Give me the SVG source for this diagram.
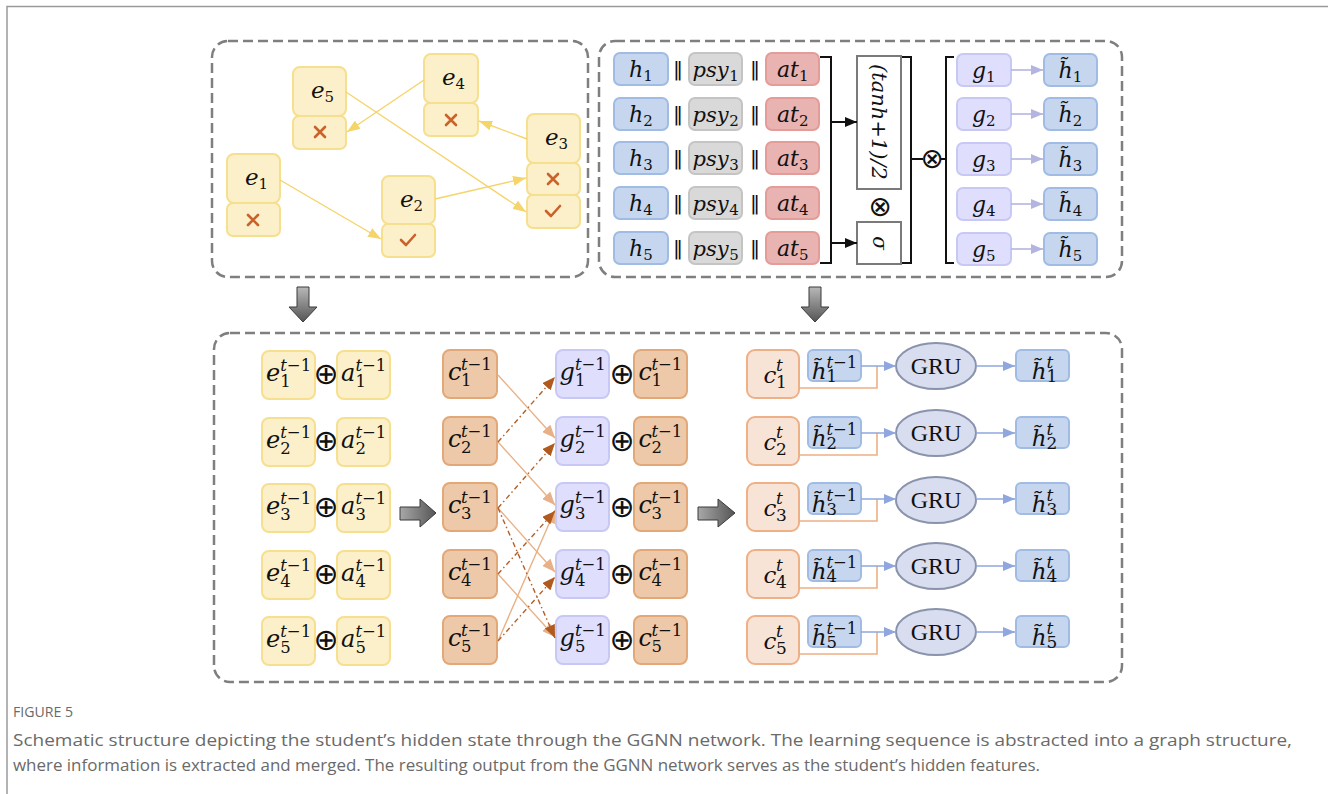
<svg xmlns="http://www.w3.org/2000/svg" width="1328" height="794" viewBox="0 0 1328 794">
  <defs>
    <style>
      .panel { fill: none; stroke: #7f7f7f; stroke-width: 2.5; stroke-dasharray: 10 5; }
      .ybox { fill: #FCF0CA; stroke: #F6DF8E; stroke-width: 2; }
      .mark { fill: none; stroke: #C9622B; stroke-width: 2.6; stroke-linecap: round; stroke-linejoin: round; }
      .yline { fill: none; stroke: #F5D46A; stroke-width: 1.4; }
      .hbox { fill: #C6D6EE; stroke: #A0BCE4; stroke-width: 2; }
      .pbox { fill: #D9D9D9; stroke: #C4C4C4; stroke-width: 2; }
      .abox { fill: #E8B3B1; stroke: #E49C98; stroke-width: 2; }
      .gbox { fill: #DFDFFD; stroke: #C8C8F4; stroke-width: 2; }
      .cbox { fill: #EDC9A9; stroke: #E2A878; stroke-width: 2; }
      .ctbox { fill: #F8E4D6; stroke: #EEB086; stroke-width: 2; }
      .gru { fill: #D9DDF0; stroke: #8A93AC; stroke-width: 2; }
      .blk { fill: none; stroke: #111; stroke-width: 2; }
      .m { font-family: "DejaVu Serif", "Liberation Serif", serif; font-style: italic; fill: #111; }
      .d { font-family: "DejaVu Serif", "Liberation Serif", serif; font-style: normal; fill: #111; }
      .op { font-family: "DejaVu Sans", "Liberation Sans", sans-serif; fill: #111; text-anchor: middle; }
      .plus { font-size: 30px; }
      .bar { font-size: 20px; }
      .b24 { font-size: 24px; }
      .b23 { font-size: 23px; }
      .b22 { font-size: 22px; }
      .s15 { font-size: 15px; }
      .s165 { font-size: 16.5px; }
      .gtxt { font-family: "Liberation Serif", "DejaVu Serif", serif; font-size: 24px; fill: #111; text-anchor: middle; }
      .cap { font-family: "Open Sans", "Noto Sans", "Liberation Sans", sans-serif; fill: #6a6a6a; }
      .solid { fill: none; stroke: #E9B186; stroke-width: 1.4; }
      .dash { fill: none; stroke: #B3602A; stroke-width: 1.4; stroke-dasharray: 5 3 1.5 3; }
      .bl { fill: none; stroke: #8FA7DE; stroke-width: 1.6; }
      .or { fill: none; stroke: #EDB084; stroke-width: 1.6; }
      .pl { fill: none; stroke: #B4B4E0; stroke-width: 1.6; }
      .big { stroke: #3a3a3a; stroke-width: 1; }
    </style>
    <marker id="ay" markerUnits="userSpaceOnUse" markerWidth="13" markerHeight="10" refX="13" refY="5" orient="auto">
      <path d="M0,0 L13,5 L0,10 Z" fill="#F5D46A"/>
    </marker>
    <marker id="ak" markerUnits="userSpaceOnUse" markerWidth="12" markerHeight="10" refX="12" refY="5" orient="auto">
      <path d="M0,0 L12,5 L0,10 Z" fill="#111"/>
    </marker>
    <marker id="ap" markerUnits="userSpaceOnUse" markerWidth="12" markerHeight="10" refX="12" refY="5" orient="auto">
      <path d="M0,0 L12,5 L0,10 Z" fill="#B4B4E0"/>
    </marker>
    <marker id="ab" markerUnits="userSpaceOnUse" markerWidth="12" markerHeight="10" refX="12" refY="5" orient="auto">
      <path d="M0,0 L12,5 L0,10 Z" fill="#8FA7DE"/>
    </marker>
    <marker id="alo" markerUnits="userSpaceOnUse" markerWidth="13" markerHeight="11" refX="13" refY="5.5" orient="auto">
      <path d="M0,0 L13,5.5 L0,11 Z" fill="#E8B088"/>
    </marker>
    <marker id="ado" markerUnits="userSpaceOnUse" markerWidth="13" markerHeight="11" refX="13" refY="5.5" orient="auto">
      <path d="M0,0 L13,5.5 L0,11 Z" fill="#B05A20"/>
    </marker>
    <linearGradient id="gv" x1="0" y1="0" x2="0" y2="1">
      <stop offset="0" stop-color="#b8b8b8"/>
      <stop offset="1" stop-color="#555"/>
    </linearGradient>
    <linearGradient id="gh" x1="0" y1="0" x2="1" y2="0">
      <stop offset="0" stop-color="#a8a8a8"/>
      <stop offset="1" stop-color="#555"/>
    </linearGradient>
  </defs>

  <rect width="1328" height="794" fill="#fff"/>
  <!-- page frame -->
  <path d="M7,794 V6.5 H1328" fill="none" stroke="#9a9a9a" stroke-width="1.5"/>

  <!-- dashed panels -->
  <g id="panels">
    <rect class="panel" x="212" y="41" width="376" height="236" rx="16"/>
    <rect class="panel" x="599" y="41" width="523" height="236" rx="16"/>
    <rect class="panel" x="214" y="333" width="908" height="349" rx="16"/>
  </g>

  <!-- block arrows between stages -->
  <g id="stage-arrows">
    <path class="big" fill="url(#gv)" d="M297,287 H309 V307 H317 L303,322 L289,307 H297 Z"/>
    <path class="big" fill="url(#gv)" d="M809,287 H821 V307 H829 L815,322 L801,307 H809 Z"/>
    <path class="big" fill="url(#gh)" d="M400,507 H420 V499 L436,513 L420,527 V520 H400 Z"/>
    <path class="big" fill="url(#gh)" d="M698,507 H718 V499 L735,513 L718,527 V520 H698 Z"/>
  </g>

  <!-- learning sequence graph -->
  <g id="node-e5">
    <rect class="ybox" x="293" y="67" width="53" height="49" rx="7"/>
    <rect class="ybox" x="293" y="116" width="53" height="33" rx="6"/>
    <text class="m b23" x="311" y="98">e</text><text class="d s15" x="324.6" y="102">5</text>
    <path class="mark" d="M315,127 L325,137 M325,127 L315,137"/>
  </g>
  <g id="node-e4">
    <rect class="ybox" x="424" y="54" width="54" height="49" rx="7"/>
    <rect class="ybox" x="424" y="103" width="54" height="33" rx="6"/>
    <text class="m b23" x="442" y="85">e</text><text class="d s15" x="455.6" y="89">4</text>
    <path class="mark" d="M446,115 L456,125 M456,115 L446,125"/>
  </g>
  <g id="node-e3">
    <rect class="ybox" x="527" y="114" width="53" height="49" rx="7"/>
    <rect class="ybox" x="527" y="163" width="53" height="32" rx="6"/>
    <rect class="ybox" x="527" y="195" width="53" height="33" rx="6"/>
    <text class="m b23" x="545" y="145">e</text><text class="d s15" x="558.6" y="149">3</text>
    <path class="mark" d="M548,174 L558,184 M558,174 L548,184"/>
    <path class="mark" d="M546,211 L551,216 L560,206"/>
  </g>
  <g id="node-e1">
    <rect class="ybox" x="227" y="154" width="53" height="49" rx="7"/>
    <rect class="ybox" x="227" y="203" width="53" height="33" rx="6"/>
    <text class="m b23" x="245" y="185">e</text><text class="d s15" x="258.6" y="189">1</text>
    <path class="mark" d="M248,215 L258,225 M258,215 L248,225"/>
  </g>
  <g id="node-e2">
    <rect class="ybox" x="382" y="176" width="53" height="48" rx="7"/>
    <rect class="ybox" x="382" y="224" width="53" height="33" rx="6"/>
    <text class="m b23" x="400" y="207">e</text><text class="d s15" x="413.6" y="211">2</text>
    <path class="mark" d="M401,240 L406,245 L415,235"/>
  </g>

  <!-- gated feature fusion -->
  <g id="row-1">
    <rect class="hbox" x="614" y="53" width="54" height="32" rx="6"/>
    <text class="m b22" x="629" y="77">h</text><text class="d s15" x="643.2" y="81">1</text>
    <text class="op bar" x="678" y="76">‖</text>
    <rect class="pbox" x="689" y="53" width="53" height="32" rx="6"/>
    <text class="m" font-size="21" x="692.5" y="77">psy</text><text class="d s15" x="729.3" y="81">1</text>
    <text class="op bar" x="755" y="76">‖</text>
    <rect class="abox" x="766" y="53" width="53" height="32" rx="6"/>
    <text class="m b22" x="777" y="77">at</text><text class="d s15" x="799" y="81">1</text>
  </g>
  <g id="row-2">
    <rect class="hbox" x="614" y="98" width="54" height="32" rx="6"/>
    <text class="m b22" x="629" y="122">h</text><text class="d s15" x="643.2" y="126">2</text>
    <text class="op bar" x="678" y="121">‖</text>
    <rect class="pbox" x="689" y="98" width="53" height="32" rx="6"/>
    <text class="m" font-size="21" x="692.5" y="122">psy</text><text class="d s15" x="729.3" y="126">2</text>
    <text class="op bar" x="755" y="121">‖</text>
    <rect class="abox" x="766" y="98" width="53" height="32" rx="6"/>
    <text class="m b22" x="777" y="122">at</text><text class="d s15" x="799" y="126">2</text>
  </g>
  <g id="row-3">
    <rect class="hbox" x="614" y="142" width="54" height="32" rx="6"/>
    <text class="m b22" x="629" y="166">h</text><text class="d s15" x="643.2" y="170">3</text>
    <text class="op bar" x="678" y="165">‖</text>
    <rect class="pbox" x="689" y="142" width="53" height="32" rx="6"/>
    <text class="m" font-size="21" x="692.5" y="166">psy</text><text class="d s15" x="729.3" y="170">3</text>
    <text class="op bar" x="755" y="165">‖</text>
    <rect class="abox" x="766" y="142" width="53" height="32" rx="6"/>
    <text class="m b22" x="777" y="166">at</text><text class="d s15" x="799" y="170">3</text>
  </g>
  <g id="row-4">
    <rect class="hbox" x="614" y="187" width="54" height="32" rx="6"/>
    <text class="m b22" x="629" y="211">h</text><text class="d s15" x="643.2" y="215">4</text>
    <text class="op bar" x="678" y="210">‖</text>
    <rect class="pbox" x="689" y="187" width="53" height="32" rx="6"/>
    <text class="m" font-size="21" x="692.5" y="211">psy</text><text class="d s15" x="729.3" y="215">4</text>
    <text class="op bar" x="755" y="210">‖</text>
    <rect class="abox" x="766" y="187" width="53" height="32" rx="6"/>
    <text class="m b22" x="777" y="211">at</text><text class="d s15" x="799" y="215">4</text>
  </g>
  <g id="row-5">
    <rect class="hbox" x="614" y="232" width="54" height="32" rx="6"/>
    <text class="m b22" x="629" y="256">h</text><text class="d s15" x="643.2" y="260">5</text>
    <text class="op bar" x="678" y="255">‖</text>
    <rect class="pbox" x="689" y="232" width="53" height="32" rx="6"/>
    <text class="m" font-size="21" x="692.5" y="256">psy</text><text class="d s15" x="729.3" y="260">5</text>
    <text class="op bar" x="755" y="255">‖</text>
    <rect class="abox" x="766" y="232" width="53" height="32" rx="6"/>
    <text class="m b22" x="777" y="256">at</text><text class="d s15" x="799" y="260">5</text>
  </g>

  <g id="gate-tanh">
    <rect x="857" y="56" width="44" height="133" fill="#fff" stroke="#7a7a7a" stroke-width="2"/>
    <text class="m" font-size="21" text-anchor="middle" transform="translate(879,122) rotate(90)" y="7">(tanh+1)/2</text>
  </g>
  <g id="gate-sigma">
    <rect x="857" y="222" width="44" height="42" fill="#fff" stroke="#7a7a7a" stroke-width="2"/>
    <text class="m" font-size="20" text-anchor="middle" transform="translate(879,243) rotate(90)" y="6">σ</text>
  </g>
  <text class="op" font-size="28" x="880" y="215.5">⊗</text>
  <g id="brackets">
    <path class="blk" d="M820,57 H831 V263 H820"/>
    <path class="blk" d="M902,57 H911 V263 H902"/>
    <path class="blk" d="M954,57 H946 V263 H954"/>
    <path class="blk" d="M911,159 H923 M941,159 H946"/>
    <text class="op" font-size="28" x="932" y="167.5">⊗</text>
  </g>

  <g id="gate-outputs">
    <rect class="gbox" x="957" y="54" width="54" height="32" rx="6"/>
    <text class="m b22" x="972" y="78">g</text><text class="d s15" x="986" y="82">1</text>
    <rect class="hbox" x="1044" y="54" width="53" height="32" rx="6"/>
    <text class="m b22" x="1058.5" y="78">h̃</text><text class="d s15" x="1072.7" y="82">1</text>

    <rect class="gbox" x="957" y="98" width="54" height="32" rx="6"/>
    <text class="m b22" x="972" y="122">g</text><text class="d s15" x="986" y="126">2</text>
    <rect class="hbox" x="1044" y="98" width="53" height="32" rx="6"/>
    <text class="m b22" x="1058.5" y="122">h̃</text><text class="d s15" x="1072.7" y="126">2</text>

    <rect class="gbox" x="957" y="143" width="54" height="32" rx="6"/>
    <text class="m b22" x="972" y="167">g</text><text class="d s15" x="986" y="171">3</text>
    <rect class="hbox" x="1044" y="143" width="53" height="32" rx="6"/>
    <text class="m b22" x="1058.5" y="167">h̃</text><text class="d s15" x="1072.7" y="171">3</text>

    <rect class="gbox" x="957" y="188" width="54" height="32" rx="6"/>
    <text class="m b22" x="972" y="212">g</text><text class="d s15" x="986" y="216">4</text>
    <rect class="hbox" x="1044" y="188" width="53" height="32" rx="6"/>
    <text class="m b22" x="1058.5" y="212">h̃</text><text class="d s15" x="1072.7" y="216">4</text>

    <rect class="gbox" x="957" y="233" width="54" height="32" rx="6"/>
    <text class="m b22" x="972" y="257">g</text><text class="d s15" x="986" y="261">5</text>
    <rect class="hbox" x="1044" y="233" width="53" height="32" rx="6"/>
    <text class="m b22" x="1058.5" y="257">h̃</text><text class="d s15" x="1072.7" y="261">5</text>
  </g>

  <!-- message passing and GRU update, one group per row -->
  <g id="step-row-1">
    <rect class="ybox" x="262" y="351" width="53" height="48" rx="7"/>
    <text class="m b24" x="266" y="381">e</text><text class="d s165" x="280.2" y="371"><tspan font-style="italic">t</tspan>−1</text><text class="d s165" x="280.2" y="387">1</text>
    <text class="op plus" x="326" y="384">⊕</text>
    <rect class="ybox" x="337" y="351" width="53" height="48" rx="7"/>
    <text class="m b24" x="341" y="381">a</text><text class="d s165" x="355.4" y="371"><tspan font-style="italic">t</tspan>−1</text><text class="d s165" x="355.4" y="387">1</text>
    <rect class="cbox" x="443" y="350" width="54" height="48" rx="7"/>
    <text class="m b24" x="448" y="380">c</text><text class="d s165" x="460.9" y="370"><tspan font-style="italic">t</tspan>−1</text><text class="d s165" x="460.9" y="386">1</text>
    <rect class="gbox" x="556" y="350" width="53" height="48" rx="7"/>
    <text class="m b24" x="559.5" y="380">g</text><text class="d s165" x="574.9" y="370"><tspan font-style="italic">t</tspan>−1</text><text class="d s165" x="574.9" y="386">1</text>
    <text class="op plus" x="622" y="384">⊕</text>
    <rect class="cbox" x="634" y="350" width="53" height="48" rx="7"/>
    <text class="m b24" x="638.5" y="380">c</text><text class="d s165" x="651.4" y="370"><tspan font-style="italic">t</tspan>−1</text><text class="d s165" x="651.4" y="386">1</text>
    <rect class="ctbox" x="747" y="350" width="52" height="48" rx="8"/>
    <text class="m b23" x="763.5" y="383">c</text><text class="m" font-size="17" x="776" y="371">t</text><text class="d" font-size="17" x="776" y="388">1</text>
    <rect class="hbox" x="808" y="350" width="53" height="31" rx="5"/>
    <text class="m b23" x="811.7" y="379">h̃</text><text class="d s165" x="826.4" y="368"><tspan font-style="italic">t</tspan>−1</text><text class="d s165" x="826.4" y="382">1</text>
    <ellipse class="gru" cx="936" cy="366" rx="40" ry="23"/>
    <text class="gtxt" x="936" y="374">GRU</text>
    <rect class="hbox" x="1016" y="350" width="53" height="31" rx="5"/>
    <text class="m b23" x="1031.7" y="379">h̃</text><text class="m" font-size="17" x="1046.4" y="368">t</text><text class="d" font-size="17" x="1046.4" y="382">1</text>
  </g>
  <g id="step-row-2">
    <rect class="ybox" x="262" y="418" width="53" height="48" rx="7"/>
    <text class="m b24" x="266" y="448">e</text><text class="d s165" x="280.2" y="438"><tspan font-style="italic">t</tspan>−1</text><text class="d s165" x="280.2" y="454">2</text>
    <text class="op plus" x="326" y="451">⊕</text>
    <rect class="ybox" x="337" y="418" width="53" height="48" rx="7"/>
    <text class="m b24" x="341" y="448">a</text><text class="d s165" x="355.4" y="438"><tspan font-style="italic">t</tspan>−1</text><text class="d s165" x="355.4" y="454">2</text>
    <rect class="cbox" x="443" y="417" width="54" height="48" rx="7"/>
    <text class="m b24" x="448" y="447">c</text><text class="d s165" x="460.9" y="437"><tspan font-style="italic">t</tspan>−1</text><text class="d s165" x="460.9" y="453">2</text>
    <rect class="gbox" x="556" y="417" width="53" height="48" rx="7"/>
    <text class="m b24" x="559.5" y="447">g</text><text class="d s165" x="574.9" y="437"><tspan font-style="italic">t</tspan>−1</text><text class="d s165" x="574.9" y="453">2</text>
    <text class="op plus" x="622" y="451">⊕</text>
    <rect class="cbox" x="634" y="417" width="53" height="48" rx="7"/>
    <text class="m b24" x="638.5" y="447">c</text><text class="d s165" x="651.4" y="437"><tspan font-style="italic">t</tspan>−1</text><text class="d s165" x="651.4" y="453">2</text>
    <rect class="ctbox" x="747" y="417" width="52" height="48" rx="8"/>
    <text class="m b23" x="763.5" y="450">c</text><text class="m" font-size="17" x="776" y="438">t</text><text class="d" font-size="17" x="776" y="455">2</text>
    <rect class="hbox" x="808" y="417" width="53" height="31" rx="5"/>
    <text class="m b23" x="811.7" y="446">h̃</text><text class="d s165" x="826.4" y="435"><tspan font-style="italic">t</tspan>−1</text><text class="d s165" x="826.4" y="449">2</text>
    <ellipse class="gru" cx="936" cy="433" rx="40" ry="23"/>
    <text class="gtxt" x="936" y="441">GRU</text>
    <rect class="hbox" x="1016" y="417" width="53" height="31" rx="5"/>
    <text class="m b23" x="1031.7" y="446">h̃</text><text class="m" font-size="17" x="1046.4" y="435">t</text><text class="d" font-size="17" x="1046.4" y="449">2</text>
  </g>
  <g id="step-row-3">
    <rect class="ybox" x="262" y="484" width="53" height="48" rx="7"/>
    <text class="m b24" x="266" y="514">e</text><text class="d s165" x="280.2" y="504"><tspan font-style="italic">t</tspan>−1</text><text class="d s165" x="280.2" y="520">3</text>
    <text class="op plus" x="326" y="517">⊕</text>
    <rect class="ybox" x="337" y="484" width="53" height="48" rx="7"/>
    <text class="m b24" x="341" y="514">a</text><text class="d s165" x="355.4" y="504"><tspan font-style="italic">t</tspan>−1</text><text class="d s165" x="355.4" y="520">3</text>
    <rect class="cbox" x="443" y="483" width="54" height="48" rx="7"/>
    <text class="m b24" x="448" y="513">c</text><text class="d s165" x="460.9" y="503"><tspan font-style="italic">t</tspan>−1</text><text class="d s165" x="460.9" y="519">3</text>
    <rect class="gbox" x="556" y="483" width="53" height="48" rx="7"/>
    <text class="m b24" x="559.5" y="513">g</text><text class="d s165" x="574.9" y="503"><tspan font-style="italic">t</tspan>−1</text><text class="d s165" x="574.9" y="519">3</text>
    <text class="op plus" x="622" y="517">⊕</text>
    <rect class="cbox" x="634" y="483" width="53" height="48" rx="7"/>
    <text class="m b24" x="638.5" y="513">c</text><text class="d s165" x="651.4" y="503"><tspan font-style="italic">t</tspan>−1</text><text class="d s165" x="651.4" y="519">3</text>
    <rect class="ctbox" x="747" y="483" width="52" height="48" rx="8"/>
    <text class="m b23" x="763.5" y="516">c</text><text class="m" font-size="17" x="776" y="504">t</text><text class="d" font-size="17" x="776" y="521">3</text>
    <rect class="hbox" x="808" y="483" width="53" height="31" rx="5"/>
    <text class="m b23" x="811.7" y="512">h̃</text><text class="d s165" x="826.4" y="501"><tspan font-style="italic">t</tspan>−1</text><text class="d s165" x="826.4" y="515">3</text>
    <ellipse class="gru" cx="936" cy="500" rx="40" ry="23"/>
    <text class="gtxt" x="936" y="508">GRU</text>
    <rect class="hbox" x="1016" y="483" width="53" height="31" rx="5"/>
    <text class="m b23" x="1031.7" y="512">h̃</text><text class="m" font-size="17" x="1046.4" y="501">t</text><text class="d" font-size="17" x="1046.4" y="515">3</text>
  </g>
  <g id="step-row-4">
    <rect class="ybox" x="262" y="551" width="53" height="48" rx="7"/>
    <text class="m b24" x="266" y="581">e</text><text class="d s165" x="280.2" y="571"><tspan font-style="italic">t</tspan>−1</text><text class="d s165" x="280.2" y="587">4</text>
    <text class="op plus" x="326" y="584">⊕</text>
    <rect class="ybox" x="337" y="551" width="53" height="48" rx="7"/>
    <text class="m b24" x="341" y="581">a</text><text class="d s165" x="355.4" y="571"><tspan font-style="italic">t</tspan>−1</text><text class="d s165" x="355.4" y="587">4</text>
    <rect class="cbox" x="443" y="550" width="54" height="48" rx="7"/>
    <text class="m b24" x="448" y="580">c</text><text class="d s165" x="460.9" y="570"><tspan font-style="italic">t</tspan>−1</text><text class="d s165" x="460.9" y="586">4</text>
    <rect class="gbox" x="556" y="550" width="53" height="48" rx="7"/>
    <text class="m b24" x="559.5" y="580">g</text><text class="d s165" x="574.9" y="570"><tspan font-style="italic">t</tspan>−1</text><text class="d s165" x="574.9" y="586">4</text>
    <text class="op plus" x="622" y="584">⊕</text>
    <rect class="cbox" x="634" y="550" width="53" height="48" rx="7"/>
    <text class="m b24" x="638.5" y="580">c</text><text class="d s165" x="651.4" y="570"><tspan font-style="italic">t</tspan>−1</text><text class="d s165" x="651.4" y="586">4</text>
    <rect class="ctbox" x="747" y="550" width="52" height="48" rx="8"/>
    <text class="m b23" x="763.5" y="583">c</text><text class="m" font-size="17" x="776" y="571">t</text><text class="d" font-size="17" x="776" y="588">4</text>
    <rect class="hbox" x="808" y="550" width="53" height="31" rx="5"/>
    <text class="m b23" x="811.7" y="579">h̃</text><text class="d s165" x="826.4" y="568"><tspan font-style="italic">t</tspan>−1</text><text class="d s165" x="826.4" y="582">4</text>
    <ellipse class="gru" cx="936" cy="566" rx="40" ry="23"/>
    <text class="gtxt" x="936" y="574">GRU</text>
    <rect class="hbox" x="1016" y="550" width="53" height="31" rx="5"/>
    <text class="m b23" x="1031.7" y="579">h̃</text><text class="m" font-size="17" x="1046.4" y="568">t</text><text class="d" font-size="17" x="1046.4" y="582">4</text>
  </g>
  <g id="step-row-5">
    <rect class="ybox" x="262" y="617" width="53" height="48" rx="7"/>
    <text class="m b24" x="266" y="647">e</text><text class="d s165" x="280.2" y="637"><tspan font-style="italic">t</tspan>−1</text><text class="d s165" x="280.2" y="653">5</text>
    <text class="op plus" x="326" y="650">⊕</text>
    <rect class="ybox" x="337" y="617" width="53" height="48" rx="7"/>
    <text class="m b24" x="341" y="647">a</text><text class="d s165" x="355.4" y="637"><tspan font-style="italic">t</tspan>−1</text><text class="d s165" x="355.4" y="653">5</text>
    <rect class="cbox" x="443" y="616" width="54" height="48" rx="7"/>
    <text class="m b24" x="448" y="646">c</text><text class="d s165" x="460.9" y="636"><tspan font-style="italic">t</tspan>−1</text><text class="d s165" x="460.9" y="652">5</text>
    <rect class="gbox" x="556" y="616" width="53" height="48" rx="7"/>
    <text class="m b24" x="559.5" y="646">g</text><text class="d s165" x="574.9" y="636"><tspan font-style="italic">t</tspan>−1</text><text class="d s165" x="574.9" y="652">5</text>
    <text class="op plus" x="622" y="650">⊕</text>
    <rect class="cbox" x="634" y="616" width="53" height="48" rx="7"/>
    <text class="m b24" x="638.5" y="646">c</text><text class="d s165" x="651.4" y="636"><tspan font-style="italic">t</tspan>−1</text><text class="d s165" x="651.4" y="652">5</text>
    <rect class="ctbox" x="747" y="616" width="52" height="48" rx="8"/>
    <text class="m b23" x="763.5" y="649">c</text><text class="m" font-size="17" x="776" y="637">t</text><text class="d" font-size="17" x="776" y="654">5</text>
    <rect class="hbox" x="808" y="616" width="53" height="31" rx="5"/>
    <text class="m b23" x="811.7" y="645">h̃</text><text class="d s165" x="826.4" y="634"><tspan font-style="italic">t</tspan>−1</text><text class="d s165" x="826.4" y="648">5</text>
    <ellipse class="gru" cx="936" cy="632" rx="40" ry="23"/>
    <text class="gtxt" x="936" y="640">GRU</text>
    <rect class="hbox" x="1016" y="616" width="53" height="31" rx="5"/>
    <text class="m b23" x="1031.7" y="645">h̃</text><text class="m" font-size="17" x="1046.4" y="634">t</text><text class="d" font-size="17" x="1046.4" y="648">5</text>
  </g>

  <g id="connectors">
    <!-- sequence graph edges -->
    <path class="yline" marker-end="url(#ay)" d="M424,80 L347,132"/>
    <path class="yline" marker-end="url(#ay)" d="M527,139 L479,121"/>
    <path class="yline" marker-end="url(#ay)" d="M346,92 L526,212"/>
    <path class="yline" marker-end="url(#ay)" d="M280,180 L381,239"/>
    <path class="yline" marker-end="url(#ay)" d="M435,199 L526,178"/>
    <!-- into the gates -->
    <path class="blk" marker-end="url(#ak)" d="M831,122 H857" stroke-width="1.8"/>
    <path class="blk" marker-end="url(#ak)" d="M831,243 H857" stroke-width="1.8"/>
    <!-- gate to hidden state -->
    <path class="pl" marker-end="url(#ap)" d="M1011,70 H1043"/>
    <path class="pl" marker-end="url(#ap)" d="M1011,114 H1043"/>
    <path class="pl" marker-end="url(#ap)" d="M1011,159 H1043"/>
    <path class="pl" marker-end="url(#ap)" d="M1011,204 H1043"/>
    <path class="pl" marker-end="url(#ap)" d="M1011,249 H1043"/>
    <!-- forward messages -->
    <path class="solid" marker-end="url(#alo)" d="M498,375 L555,438"/>
    <path class="solid" marker-end="url(#alo)" d="M498,442 L555,505"/>
    <path class="solid" marker-end="url(#alo)" d="M498,508 L555,572"/>
    <path class="solid" marker-end="url(#alo)" d="M498,574 L555,637"/>
    <path class="solid" marker-end="url(#alo)" d="M498,641 L555,510"/>
    <!-- backward messages -->
    <path class="dash" marker-end="url(#ado)" d="M498,442 L555,377"/>
    <path class="dash" marker-end="url(#ado)" d="M498,508 L555,443"/>
    <path class="dash" marker-end="url(#ado)" d="M498,574 L555,511"/>
    <path class="dash" marker-end="url(#ado)" d="M498,641 L555,577"/>
    <path class="dash" marker-end="url(#ado)" d="M498,508 L555,638"/>
    <!-- GRU inputs and outputs -->
    <path class="or" d="M799,388 H877 V366"/>
    <path class="or" d="M799,455 H877 V433"/>
    <path class="or" d="M799,521 H877 V499"/>
    <path class="or" d="M799,588 H877 V566"/>
    <path class="or" d="M799,654 H877 V632"/>
    <path class="bl" marker-end="url(#ab)" d="M861,366 H896"/>
    <path class="bl" marker-end="url(#ab)" d="M861,433 H896"/>
    <path class="bl" marker-end="url(#ab)" d="M861,499 H896"/>
    <path class="bl" marker-end="url(#ab)" d="M861,566 H896"/>
    <path class="bl" marker-end="url(#ab)" d="M861,632 H896"/>
    <path class="bl" marker-end="url(#ab)" d="M976,366 H1015"/>
    <path class="bl" marker-end="url(#ab)" d="M976,433 H1015"/>
    <path class="bl" marker-end="url(#ab)" d="M976,499 H1015"/>
    <path class="bl" marker-end="url(#ab)" d="M976,566 H1015"/>
    <path class="bl" marker-end="url(#ab)" d="M976,632 H1015"/>
  </g>

  <!-- caption -->
  <g id="caption">
    <text class="cap" x="13" y="717" font-size="14" fill="#555" textLength="60" lengthAdjust="spacingAndGlyphs">FIGURE 5</text>
    <text class="cap" x="13" y="746" font-size="16.5" textLength="1279" lengthAdjust="spacingAndGlyphs">Schematic structure depicting the student’s hidden state through the GGNN network. The learning sequence is abstracted into a graph structure,</text>
    <text class="cap" x="13" y="771" font-size="16.5" textLength="1027" lengthAdjust="spacingAndGlyphs">where information is extracted and merged. The resulting output from the GGNN network serves as the student’s hidden features.</text>
  </g>
</svg>
